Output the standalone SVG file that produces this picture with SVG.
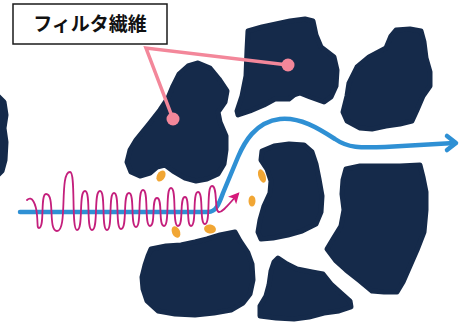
<svg xmlns="http://www.w3.org/2000/svg" width="463" height="322" viewBox="0 0 463 322">
  <style>
    .fiber { fill: #152a4a; stroke: #152a4a; stroke-width: 5; stroke-linejoin: round; }
    .dust { fill: #f1a634; }
    .leader { fill: none; stroke: #f3879a; stroke-width: 3.5; stroke-linecap: round; }
    .leader-dot { fill: #f3879a; }
    .flow { fill: none; stroke: #2f90d4; stroke-width: 4.5; stroke-linecap: round; stroke-linejoin: round; }
    .wave { fill: none; stroke: #c41f7c; stroke-width: 1.8; stroke-linecap: round; }
    .label-box { fill: #ffffff; stroke: #1a1a1a; stroke-width: 1.5; }
    .label-text { font-family: "Noto Sans CJK JP", "Noto Sans CJK SC", sans-serif; font-weight: 700; font-size: 19px; fill: #111111; }
  </style>
  <defs>
    <marker id="wave-head" viewBox="0 0 10 10" refX="8" refY="5" markerWidth="11" markerHeight="11" markerUnits="userSpaceOnUse" orient="auto">
      <path d="M0,0 L10,5 L0,10 L2.5,5 z" fill="#d61a7a"/>
    </marker>
  </defs>

  <rect width="463" height="322" fill="#ffffff"/>

  <!-- filter fibres -->
  <g id="fiber-edge-left">
    <polygon class="fiber" points="-3,95 4,102 6,115 4,128 6,142 5,160 2,171 -3,176"/>
  </g>
  <g id="fiber-a">
    <polygon class="fiber" points="188,66 198,63 210,68 219,79 227,91 225,102 218,112 220,122 226,136 226,150 224,164 218,174 207,179 196,181 185,178 173,171 165,165 157,167 150,173 140,176 131,172 127,162 130,150 136,140 149,124 160,110 168,98 173,86 179,74"/>
  </g>
  <g id="fiber-b">
    <polygon class="fiber" points="248,31 262,27 276,24 290,21 305,19 313,21 316,35 321,47 334,57 337,70 336,86 331,97 324,102 310,97 300,93 294,95 289,99 275,99 264,105 250,111 238,115 237,111 242,96 246,76 247,50"/>
  </g>
  <g id="fiber-c">
    <polygon class="fiber" points="357,67 369,57 386,48 391,36 396,30 410,29 421,31 424,42 426,58 430,72 430,86 423,96 417,110 412,121 400,124 386,126 372,129 360,128 347,121 343,112 347,96 349,83"/>
  </g>
  <g id="fiber-d">
    <polygon class="fiber" points="346,169 360,166 375,166 400,166 420,165 423,177 426,192 426,210 424,232 417,250 410,266 403,282 397,292 384,292 372,291 360,281 346,270 336,261 327,249 333,239 341,226 344,210 342,194 343,180"/>
  </g>
  <g id="fiber-e">
    <polygon class="fiber" points="262,151 274,146 289,144 304,145 312,152 316,164 319,179 322,196 321,212 316,224 302,231 288,235 273,238 261,239 258,232 260,220 264,206 270,193 271,181 267,169 261,160"/>
  </g>
  <g id="fiber-f">
    <polygon class="fiber" points="151,249 166,246 181,245 195,242 207,239 220,235 235,232 240,241 248,253 252,264 253,280 250,294 243,303 231,310 214,313 195,315 175,314 158,311 147,301 143,289 142,277 145,265 148,256"/>
  </g>
  <g id="fiber-g">
    <polygon class="fiber" points="278,258 287,264 297,269 312,272 323,274 331,284 341,293 350,301 351,307 339,311 324,313 309,317 294,319 276,318 260,316 260,306 266,296 269,285 271,271 274,262"/>
  </g>

  <!-- trapped particles -->
  <g id="particles">
    <ellipse class="dust" cx="161" cy="176" rx="4" ry="6" transform="rotate(30 161 176)"/>
    <ellipse class="dust" cx="262" cy="176" rx="3.5" ry="7" transform="rotate(-20 262 176)"/>
    <ellipse class="dust" cx="252" cy="201" rx="3.5" ry="5.5"/>
    <ellipse class="dust" cx="176" cy="232" rx="4" ry="6" transform="rotate(-25 176 232)"/>
    <ellipse class="dust" cx="210" cy="229" rx="6" ry="4.5" transform="rotate(10 210 229)"/>
  </g>

  <g id="connectors">
    <!-- leader lines from the label to the fibres -->
    <polyline class="leader" points="173,119 146,48 288,65"/>
    <circle class="leader-dot" cx="173" cy="119" r="6.5"/>
    <circle class="leader-dot" cx="288" cy="65" r="6.5"/>

    <!-- air flow passing between the fibres -->
    <path class="flow" d="M20,212 H208 C216,212 219,204 223,193 L238,157 C244,143 255,122 280,119 C300,117 318,128 335,139 C348,148 360,148 385,147 L454,143"/>
    <polyline class="flow" points="447,136 456,143 447,150"/>

    <!-- particle trajectory -->
    <path class="wave" marker-end="url(#wave-head)" d="M27,200 C32,195 36,204 37,215 S37,228 39,228
      C45,228 40,194 46,194 C55.4,194 47.6,231 57,231
      C68,231 59,172 70,172 C76,172 71,230 77,230
      C83.8,230 78.2,191 85,191 C91,191 86,230 92,230
      C98.8,230 93.2,191 100,191 C106,191 101,230 107,230
      C113,230 108,193 114,193 C120,193 115,229 121,229
      C127.8,229 122.2,193 129,193 C135,193 130,227 136,227
      C142,227 137,190 143,190 C149,190 144,226 150,226
      C156,226 151,198 157,198 C163,198 158,226 164,226
      C170,226 165,188 171,188 C177,188 172,226 178,226
      C184,226 179,197 185,197 C190.1,197 185.9,226 191,226
      C197,226 192,192 198,192 C204,192 199,224 205,224
      C211,224 206,186 212,186 C218,186 214,212 219,212
      C223,212 228,205 238,194"/>
  </g>

  <!-- label -->
  <g id="label">
    <rect class="label-box" x="13" y="4" width="154" height="40"/>
    <text class="label-text" x="90" y="31" text-anchor="middle">フィルタ繊維</text>
  </g>
</svg>
